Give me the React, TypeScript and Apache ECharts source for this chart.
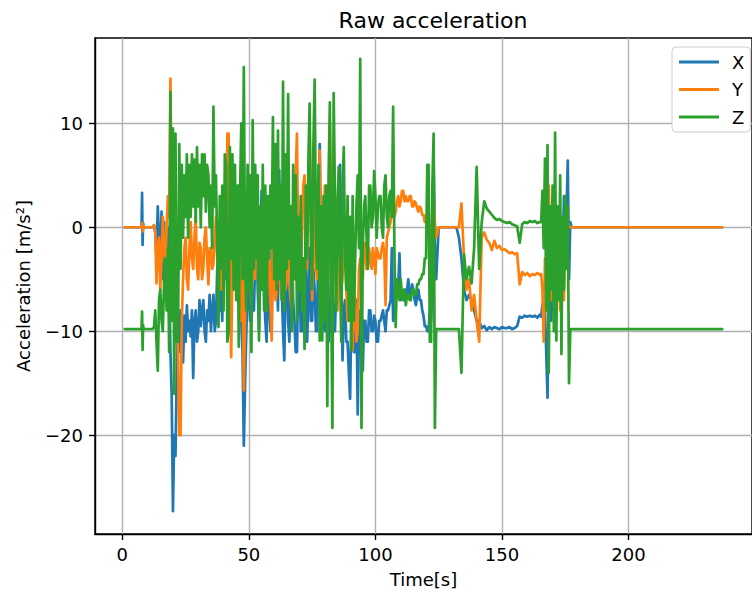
import React, { useEffect, useRef } from "react";
import * as echarts from "echarts";

// Sample clocks of the three recorded sections
const SEG_A_T0 = 12;   // t = 12 .. 124, every 0.5 s
const SEG_A_DT = 0.5;
const SEG_B_T0 = 125;  // t = 125 .. 165, every 1 s
const SEG_B_DT = 1;
const SEG_C_T0 = 165.5; // t = 165.5 .. 180, every 0.5 s
const SEG_C_DT = 0.5;

const X_TICKS = [0, 50, 100, 150, 200];
const Y_TICKS = [-20, -10, 0, 10];

// Quiet segments [time, value]
const X_PRE = [[1, 0], [7.6, 0], [7.8, 3.3], [8.0, -1.7], [8.2, 0.4], [8.4, 0], [11, 0]];
const Y_PRE = [[1, 0], [7.7, 0], [7.9, 0.4], [8.1, -0.4], [8.3, 0], [11, 0]];
const Z_PRE = [[1, -9.8], [7.6, -9.8], [7.8, -8.1], [8.0, -11.8], [8.2, -9.4], [8.4, -9.8], [11, -9.8]];
const X_POST = [[181, 0], [237, 0]];
const Y_POST = [[181, 0], [237, 0]];
const Z_POST = [[181, -9.8], [237, -9.8]];

// ---- X ----
const X_A = [
  0, 0.2, -0.5, -3, 2, -1, -4, 1.5, -5, 0.5,
  -7, -2, 0, -5, -12, -16, -27.3, -20, -22, -14,
  -9, -12, -8, -10.5, -13, -8.5, -11, -7.5, -10, -9,
  -10.5, -8, -14.5, -9, -8, -11, -10, -7, -9.5, -8,
  -7, -10, -11, -8, -9, -6.5, -10, -8, -6.5, -10,
  -9, -4, -3, -8, -6, -9, 2, -3, -5, 1,
  3, -4, -7, 2, 6, -2, -4, 3, 4, -6,
  -9, -12, -21, -15, -10, -6, -5, -9, -9, -7,
  -8, -3, 0, -6, -10, -4, 3.5, -1, -6, -9,
  -11, -5, -7, -10, -10, 1, -2, 5.8, -4, -8,
  5.5, -2, -6, -10, -12.8, -5, -3, -9, -11, -6,
  0, -7, -9, -12, -12, -5, -4, -10, -10, -6,
  -8, -3, -11, -7, -2, -9, -9, -4, -6, -10,
  -10, 1, 8, -3, -5, -9, -10, -6, -8, -11,
  -9, -4, -5, -10, -10, -6, -3, 2, 6, -4,
  -12.8, -8, -7, -11, -11, -14, -16.5, -8, -9, -12,
  -12, -7, -18, -10, -8, -11, -13.8, -9, -9, -11,
  -11, -8, -8, -10, -10, -8.5, -9, -11, -11, -9,
  -9, -8.5, -8, -9, -10, -8, -8, -7.5, -7, -2,
  -9, -7.5, -7, -6, -6, -2.5, -7, -6.5, -7, -6,
  -7, -6, -5, -6.5, -6.5, -5.5, -6, -7, -7.5, -6.5,
  -6, -7, -7, -8, -8.5, -9.5, -9.5, -10, -10, -8,
  -9, -5, 7, -2, -5,
];
const X_B = [
  0, 0, 0, 0, 0, 0, 0,
  0, -1, -3, -6, -7, -6.5, -7, -8, -9, -9,
  -9.7, -9.5, -9.9, -9.6, -9.8, -9.6, -9.7, -9.8, -9.6, -9.7,
  -9.7, -9.6, -9.8, -9.7, -9.5, -8.6, -8.7, -8.5, -8.6, -8.5,
  -8.6, -8.5, -8.7, -8.4,
];
const X_C = [
  -8.6, -7.4, -9.5, -8, -12, -16.4, -6, -4, -9, -3,
  -7, -10, -2, -6, 0, -1, 0.5, -3, 3, -2,
  1, 6.4, -5, 0.5, 0, 0, 0, 0, 0, 0,
];

// ---- Y ----
const Y_A = [
  0, 0.2, -0.3, -5.4, -2, -1, -6, -3, 1, -2,
  -4, 0, 3, 1, 14.3, 2, -8, -3, 4, -6,
  -12, -20, -20, -9, -5, -2, -1, -5, -6, -2,
  0.5, -3, -4, -1, 1, -4, -5, -1.5, -2, -5,
  -4, -1, 0, -3, -5.5, -2, -2, -4, -3.5, -1,
  1, -3, -2, -4.5, -6, -2, -1, -3, -4, 9,
  9, -5, -12.5, -4, 4, -2, -6, -1, 2, -5,
  -9, -4, -15.7, -8, -3, 1, 3, -4, -8, -2,
  -2, -5, 2, -1, -4, -2, 0.5, -3, -2.5, 1,
  -8, -3, -1, -7, -10.9, -2, -4, -7, -6, -1,
  -3, -6, -7, -2, 0, -6, -5, -1, -2, -7,
  -8, -3, 0, 5, 9, -2, -6, -3, -1, 4,
  5, -1, -4, 3, 10, 2, -7, -2, 2, -4,
  -5, 1, 7.4, -3, -8, -2, 4, -1, -6, -3,
  10, 3, -6, -2, -2, -7, -8, -3, -3, -6,
  -5, -1, -1, -6, -9, -5, -4, -7, -11.8, -6,
  -7, -11, -10, -4, -3, -5, -5, -2, -1.5, -4,
  -4, -2, -3, -4, -2, -3, -4.5, -2, -2.5, -3,
  -3, -2, -1.5, -2.5, -7.5, -1, -0.5, 0, 0.5, 1.5,
  2.5, 1, 1.5, 2.5, 3, 2, 2.5, 3.5, 3.5, 2.5,
  3, 2.5, 2.5, 3, 3, 2, 2, 2.5, 2.3, 1.8,
  1.5, 2, 1.8, 1.2, 1.2, 0.5, 0.5, 1.5, 2, -1,
  -2, 1, 3, 0.5, -1,
];
const Y_B = [
  0, 0, 0, 0, 0, 0, 0,
  0, 0, 2.3, -3, -6, -5, -8, -6.5, -9, -11,
  -1, -0.5, -1.2, -1.5, -2.2, -1.3, -2, -1.8, -2.2, -2.1,
  -2.3, -2.5, -2.4, -2.6, -2.5, -5.5, -4.3, -4.6, -4.4, -4.7,
  -4.5, -4.6, -4.4, -4.6,
];
const Y_C = [
  -4.5, -6, -11, -3, -8, 1, 4, -2, -7, 0,
  -5, -9, -1, -6, -2, -8, -1, -4, -7, 0.7,
  -3, 0.5, 0, 0, 0, 0, 0, 0, 0, 0,
];

// ---- Z ----
const Z_A = [
  -9.8, -9.6, -8, -11, -13.8, -7, -6, -9, -10, -5,
  -3, -8, -2, -12, 13, -9, 9.5, -16, 9, -11,
  -11, 8, -4, 6, -1, 5, 1, 7, -1, 6,
  1, 7, 2, 6.5, 0.5, 7.7, 2, 6, 0, 7,
  3, 7, 1.5, 6, 5, 0, 4, -2, 11.6, 2,
  5, -2, -9.6, 3, -4, 4, -8, 7, 6, -11,
  -10, 7.7, -3, 7, -6, 6, -7, 4, -11.5, 3,
  10, -5, 15.4, -4, -8, 6, -6, 5, -12, 10.3,
  -4, 6, -3, 5, -10.9, 2, -6, 6, -8, 4,
  -8, 3, -3, 4, -2, 10.6, -5, 8, -6, 9.3,
  -5, 4, -7, 14, -8, 7, -4, 12.8, -3, 2,
  -10, 6, -5, 5, -9, 1, -6, 3, -8, -3,
  -11.7, 4, -3, 6, 11.9, -2, -6, 8, 14.2, -1,
  -4, 6, -10.9, 2, -10.9, 3, -9, 4, -17.2, 5,
  12, -6, -19.3, 12.9, 3, -8, 2, 5.8, -4, -11,
  4, 7.7, -3, -6, 3, -9, 1, -11.8, 3, -9,
  -3, 2, 5, -2, 16.2, -19.3, -2, 2, 3, -1,
  -4, 4, 4, 0, 1, 5.4, 3, -1, 2, 3,
  3, 0, -1, 4, 5, 1, 0, 3, 3.5, 1,
  11.6, -2, -9.6, -5, -6, -7, -5, -6.5, -7, -6,
  -7.5, -6.5, -6.5, -7, -7, -6, -6, -6.5, -6.5, -5.5,
  -5.5, -5, -5, -4.5, -4.5, -3, -3, 6, 6, -11,
  -11, 4, 9, -19.3, -9.8,
];
const Z_B = [
  -9.8, -9.8, -9.8, -9.8, -9.8, -9.8, -9.8,
  -9.8, -9.8, -14, -2.6, -5, -3.8, -5.4, -2, 5.8, -4,
  0.5, 2.5, 1.8, 1.5, 1.2, 0.9, 0.7, 0.8, 0.6, 0.5,
  0.4, 0.5, 0.3, 0.2, 0.1, -1.5, 0.3, 0.5, 0.4, 0.6,
  0.5, 0.6, 0.4, 0.5,
];
const Z_C = [
  0.5, 3.5, -2, 6.6, -8, 7.9, -14, 2, -6, 4,
  -10, 9.1, -10.9, 2, -7, 5, -12.2, 1, -6, 3,
  -4, 2, -15, -9.8, -9.8, -9.8, -9.8, -9.8, -9.8, -9.8,
];

const SERIES_NAMES = ["X", "Y", "Z"];
const COLORS = ["#1f77b4", "#ff7f0e", "#2ca02c"];

function seg(vals: number[], t0: number, dt: number) {
  return vals.map((v, i) => [t0 + i * dt, v]);
}
function build(pre: number[][], a: number[], b: number[], c: number[], post: number[][]) {
  return [
    ...pre,
    ...seg(a, SEG_A_T0, SEG_A_DT),
    ...seg(b, SEG_B_T0, SEG_B_DT),
    ...seg(c, SEG_C_T0, SEG_C_DT),
    ...post,
  ];
}

const FONT = "DejaVu Sans";
const fmt = (v: number) => String(v).replace("-", "\u2212");

export default function App() {
  const ref = useRef<HTMLDivElement>(null);
  useEffect(() => {
    if (!ref.current) return;
    const chart = echarts.init(ref.current, undefined, { renderer: "svg" });
    const datasets = [
      build(X_PRE, X_A, X_B, X_C, X_POST),
      build(Y_PRE, Y_A, Y_B, Y_C, Y_POST),
      build(Z_PRE, Z_A, Z_B, Z_C, Z_POST),
    ];
    chart.setOption({
      animation: false,
      backgroundColor: "#ffffff",
      title: {
        text: "Raw acceleration",
        left: 428,
        top: 4,
        textAlign: "center",
        textStyle: { fontFamily: FONT, fontSize: 22, fontWeight: "normal", color: "#000" },
      },
      legend: {
        orient: "vertical",
        left: 672,
        top: 47,
        data: SERIES_NAMES,
        icon: "rect",
        itemWidth: 40,
        itemHeight: 3,
        itemGap: 9.5,
        padding: [6, 6, 6, 7],
        backgroundColor: "#ffffff",
        borderColor: "#cccccc",
        borderWidth: 1,
        borderRadius: 4,
        textStyle: { fontFamily: FONT, fontSize: 18, color: "#000", lineHeight: 18, padding: [0, 0, 0, 8] },
      },
      grid: {
        left: 95,
        top: 38,
        right: -7,
        bottom: 60,
        show: true,
        borderColor: "#000",
        borderWidth: 1.4,
        backgroundColor: "transparent",
      },
      xAxis: {
        type: "value",
        min: -10.8,
        max: 248.8,
        name: "Time[s]",
        nameLocation: "middle",
        nameGap: 36,
        nameTextStyle: { fontFamily: FONT, fontSize: 18, color: "#000" },
        axisLine: { show: true, onZero: false, lineStyle: { color: "#000", width: 1.4 } },
        axisTick: { show: true, inside: false, length: 6, lineStyle: { color: "#000", width: 1.4 }, customValues: X_TICKS },
        axisLabel: { fontFamily: FONT, fontSize: 18, color: "#000", margin: 11, customValues: X_TICKS, formatter: fmt },
        splitLine: { show: true, lineStyle: { color: "#b0b0b0", width: 1.4 } },
      },
      yAxis: {
        type: "value",
        min: -29.5,
        max: 18.2,
        name: "Acceleration [m/s\u00b2]",
        nameLocation: "middle",
        nameGap: 63,
        nameRotate: 90,
        nameTextStyle: { fontFamily: FONT, fontSize: 18, color: "#000" },
        axisLine: { show: true, onZero: false, lineStyle: { color: "#000", width: 1.4 } },
        axisTick: { show: true, inside: false, length: 6, lineStyle: { color: "#000", width: 1.4 }, customValues: Y_TICKS },
        axisLabel: { fontFamily: FONT, fontSize: 18, color: "#000", margin: 12, customValues: Y_TICKS, formatter: fmt },
        splitLine: { show: true, lineStyle: { color: "#b0b0b0", width: 1.4 } },
      },
      series: SERIES_NAMES.map((name, i) => ({
        name,
        type: "line",
        data: datasets[i],
        showSymbol: false,
        symbol: "none",
        clip: true,
        color: COLORS[i],
        lineStyle: { color: COLORS[i], width: 2.7, join: "round", cap: "round" },
        z: 2 + i,
      })),
    });
    return () => chart.dispose();
  }, []);
  return (
    <div
      ref={ref}
      style={{ position: "fixed", left: 0, top: 0, width: 752, height: 594, background: "#fff" }}
    />
  );
}
